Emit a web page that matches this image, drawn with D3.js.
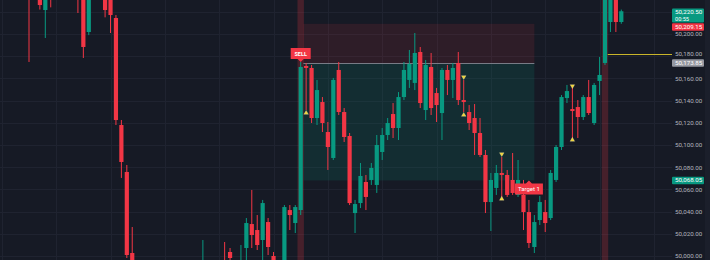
<!DOCTYPE html>
<html>
<head>
<meta charset="utf-8">
<script src="https://cdn.jsdelivr.net/npm/d3@7"></script>
<style>
  html, body { margin: 0; padding: 0; background: #161a25; overflow: hidden; }
  svg { display: block; font-family: Roboto, "Noto Sans", sans-serif; }
</style>
</head>
<body>
<svg id="chart" width="710" height="260"></svg>
<script>
// bar numbers, 0 = the SELL bar (only bars with something visible)
var bars = [-50, -48, -47, -46, -41, -40, -39, -36, -35, -34, -33, -32, -31,
    -18, -14, -13, -11, -10, -9, -8, -7, -6, -5, -3, -2, -1,
    0, 1, 2, 3, 4, 5, 6, 7, 8, 9, 10, 11, 12, 13, 14, 15, 16, 17, 18, 19,
    20, 21, 22, 23, 24, 25, 26, 27, 28, 29, 30, 31, 32, 33, 34, 35, 36, 37, 38, 39,
    40, 41, 42, 43, 44, 45, 46, 47, 48, 49, 50, 51, 52, 53, 54, 55, 56, 57, 58, 59];

var open = [50250, 50246, 50221.6, 50248, 50250, 50242, 50201.8, 50240, 50236, 50214.4, 50118.0, 50075.7, 50002.7,
    49985, 49995, 50003.6, 49988, 50007.2, 50028.8, 50023.4, 50014.4, 50030.6, 50000.0, 49990, 50041.4, 50029.7,
    50041.4, 50171.2, 50169.4, 50124.3, 50138.7, 50111.7, 50088.3, 50167.6, 50129.7, 50108.1,
    50038.7, 50047.7, 50066.7, 50068.5, 50064.0, 50093.7, 50109.0, 50127.9, 50115.3, 50143.2,
    50158.6, 50155.9, 50183.8, 50131.5, 50170.3, 50146.8, 50128.8, 50167.6, 50158.6, 50173.9,
    50140.5, 50129.7, 50124.3, 50110.8, 50091.0, 50048.6, 50061.3, 50074.8, 50073.0, 50068.5,
    50055.0, 50055.0, 50039.6, 50008.1, 50032.4, 50039.6, 50034.2, 50068.5, 50098.2, 50142.3,
    50132.4, 50134.2, 50125.2, 50143.2, 50119.8, 50157.7, 50173.9, 50210.8, 50236, 50210.8];

var high = [50262, 50252, 50252, 50256, 50258, 50248, 50245, 50246, 50242, 50217.1, 50122.5, 50082.0, 50026.1,
    50014.4, 50012.6, 50007.2, 50009.9, 50034.2, 50059.5, 50036.9, 50050.5, 50034.2, 50003.6, 50045.9, 50045.9, 50045.9,
    50174.8, 50173.9, 50172.1, 50158.6, 50143.2, 50120.7, 50160.4, 50174.8, 50133.3, 50110.8,
    50050.5, 50083.8, 50073.0, 50083.8, 50109.0, 50115.3, 50124.3, 50137.8, 50147.7, 50174.8,
    50185.6, 50200.9, 50188.3, 50176.6, 50182.9, 50151.4, 50169.4, 50172.1, 50173.9, 50183.8,
    50158.6, 50136.0, 50136.9, 50124.3, 50095.5, 50074.8, 50082.0, 50089.2, 50077.5, 50092.8,
    50086.5, 50068.5, 50050.5, 50036.9, 50054.1, 50050.5, 50077.5, 50100.0, 50145.0, 50154.1,
    50152.3, 50140.5, 50145.0, 50158.6, 50155.9, 50179.3, 50240, 50240, 50240, 50222.0];

var low = [50174.8, 50222.0, 50196.4, 50224.0, 50218.9, 50178.4, 50199.0, 50215.0, 50200.9, 50118.0, 50070.3, 49998.2, 49970,
    49975, 49980, 49985, 49980, 49995, 50007.2, 50005.4, 49995, 50000.9, 49988, 49985, 50023.4, 50020.7,
    50036.9, 50131.5, 50119.8, 50118.0, 50111.7, 50077.5, 50086.5, 50127.0, 50102.7, 50045.9,
    50020.7, 50043.2, 50041.4, 50064.0, 50056.8, 50086.5, 50104.5, 50106.3, 50104.5, 50140.5,
    50151.4, 50149.5, 50133.3, 50122.5, 50127.0, 50120.7, 50104.5, 50145.0, 50142.3, 50136.0,
    50129.7, 50113.5, 50091.0, 50089.2, 50038.7, 50022.5, 50055.0, 50053.2, 50053.2, 50055.0,
    50053.2, 50023.4, 50007.2, 50002.7, 50027.9, 50021.6, 50032.4, 50066.7, 50095.5, 50137.8,
    50105.4, 50106.3, 50122.5, 50127.0, 50118.0, 50145.0, 50172.1, 50201.8, 50201.8, 50209.2];

var close = [50244, 50226.1, 50240, 50236, 50238, 50188.3, 50238, 50221.6, 50217.1, 50122.5, 50084.7, 50000.9, 49978,
    49990, 49990, 49998.2, 49996, 50029.7, 50018.9, 50009.9, 50047.7, 50008.1, 49992, 50044.1, 50036.9, 50044.1,
    50170.3, 50169.4, 50124.3, 50149.5, 50119.8, 50098.2, 50158.6, 50129.7, 50107.2, 50047.7,
    50046.8, 50072.1, 50053.2, 50079.3, 50100.0, 50109.0, 50119.8, 50115.3, 50143.2, 50167.6,
    50173.0, 50182.9, 50137.8, 50172.1, 50133.3, 50136.0, 50167.6, 50158.6, 50169.4, 50140.5,
    50138.7, 50119.8, 50110.8, 50091.0, 50048.6, 50068.5, 50074.8, 50073.0, 50055.0, 50056.8,
    50068.5, 50039.6, 50011.7, 50030.6, 50048.6, 50029.7, 50074.8, 50098.2, 50143.2, 50148.6,
    50130.6, 50125.2, 50143.2, 50128.8, 50154.1, 50163.1, 50236, 50236, 50210.8, 50220.5];

// price scale ticks
var priceTicks = [50000, 50020, 50040, 50060, 50080, 50100, 50120, 50140, 50160, 50180, 50200, 50220];

// trade box
var entryPrice = 50173.85;
var stopPrice = 50209.15;
var targetPrice = 50068.05;
var lastPrice = 50220.50;
var countdown = "00:55";
var boxStartBar = 0.5, boxEndBar = 43;

// highlighted signal bars
var signalBars = [0, 56];

// yellow markers
var upMarkBars = [1, 30, 37, 50];
var upMarkPrices = [50128.8, 50127.0, 50051.4, 50104.5];
var downMarkBars = [30, 37, 50];
var downMarkPrices = [50161.3, 50091.9, 50153.2];

var levelPrice = 50182.0;  // yellow line from bar 56

// grid columns
var gridBars = [-55, -45, -35, -25, -15, -5, 5, 15, 25, 35, 45, 55, 65];

var W = 710, H = 260, paneW = 672;
var upColor = "#089981", downColor = "#f23645";

var x = d3.scaleLinear().domain([0, 59]).range([300.7, 621.3]);
var y = d3.scaleLinear().domain([50000, 50220]).range([256, 11.8]);
var step = x(1) - x(0);

var data = bars.map(function (b, i) {
    return {bar: b, o: open[i], h: high[i], l: low[i], c: close[i]};
});

var svg = d3.select("#chart");

svg.append("rect").attr("width", W).attr("height", H).attr("fill", "#161a25");

svg.append("defs").append("clipPath").attr("id", "pane")
    .append("rect").attr("x", 0).attr("y", 0).attr("width", paneW).attr("height", H);

var pane = svg.append("g").attr("clip-path", "url(#pane)");

// grid
pane.selectAll(".hgrid")
    .data(priceTicks)
    .enter().append("line")
    .attr("x1", 0).attr("x2", paneW)
    .attr("y1", function (d) { return Math.round(y(d)) + 0.5; })
    .attr("y2", function (d) { return Math.round(y(d)) + 0.5; })
    .attr("stroke", "#1f2330");

pane.selectAll(".vgrid")
    .data(gridBars)
    .enter().append("line")
    .attr("x1", function (d) { return Math.round(x(d)) + 0.5; })
    .attr("x2", function (d) { return Math.round(x(d)) + 0.5; })
    .attr("y1", 0).attr("y2", H)
    .attr("stroke", "#1f2330");

// signal columns
pane.selectAll(".signal")
    .data(signalBars)
    .enter().append("rect")
    .attr("x", function (d) { return x(d) - step / 2 - 0.5; })
    .attr("width", step + 1)
    .attr("y", 0).attr("height", H)
    .attr("fill", "rgba(242,54,69,0.22)");

// stop / target zones
pane.append("rect")
    .attr("x", x(boxStartBar)).attr("width", x(boxEndBar) - x(boxStartBar))
    .attr("y", y(stopPrice)).attr("height", y(entryPrice) - y(stopPrice))
    .attr("fill", "rgba(242,54,69,0.11)");
pane.append("rect")
    .attr("x", x(boxStartBar)).attr("width", x(boxEndBar) - x(boxStartBar))
    .attr("y", y(entryPrice)).attr("height", y(targetPrice) - y(entryPrice))
    .attr("fill", "rgba(8,153,129,0.15)");
pane.append("line")
    .attr("x1", x(boxStartBar)).attr("x2", x(boxEndBar))
    .attr("y1", Math.round(y(entryPrice)) + 0.5).attr("y2", Math.round(y(entryPrice)) + 0.5)
    .attr("stroke", "#787b86");

// yellow level
pane.append("line")
    .attr("x1", x(56) + step / 2).attr("x2", paneW)
    .attr("y1", Math.round(y(levelPrice)) + 0.5).attr("y2", Math.round(y(levelPrice)) + 0.5)
    .attr("stroke", "#c9b52a");

// candles
var candle = pane.selectAll(".candle")
    .data(data)
    .enter().append("g");

candle.append("line")
    .attr("x1", function (d) { return x(d.bar); })
    .attr("x2", function (d) { return x(d.bar); })
    .attr("y1", function (d) { return y(d.h); })
    .attr("y2", function (d) { return y(d.l); })
    .attr("stroke", function (d) { return d.c >= d.o ? upColor : downColor; })
    .attr("stroke-width", 1);

candle.append("rect")
    .attr("x", function (d) { return x(d.bar) - 2.1; })
    .attr("width", 4.2)
    .attr("y", function (d) { return y(Math.max(d.o, d.c)); })
    .attr("height", function (d) { return Math.max(1, Math.abs(y(d.o) - y(d.c))); })
    .attr("fill", function (d) { return d.c >= d.o ? upColor : downColor; });

// markers
var tri = d3.symbol().type(d3.symbolTriangle).size(9);
pane.selectAll(".up")
    .data(upMarkBars)
    .enter().append("path")
    .attr("d", tri)
    .attr("transform", function (d, i) { return "translate(" + x(d) + "," + y(upMarkPrices[i]) + ")"; })
    .attr("fill", "#f0d43a")
    .attr("stroke", "rgba(255,255,220,0.3)").attr("stroke-width", 0.8);
pane.selectAll(".down")
    .data(downMarkBars)
    .enter().append("path")
    .attr("d", tri)
    .attr("transform", function (d, i) { return "translate(" + x(d) + "," + y(downMarkPrices[i]) + ") rotate(180)"; })
    .attr("fill", "#f0d43a")
    .attr("stroke", "rgba(255,255,220,0.3)").attr("stroke-width", 0.8);

// SELL label
var sx = x(0), sy = y(high[bars.indexOf(0)]);
pane.append("path")
    .attr("d", "M" + (sx - 10) + "," + (sy - 14) + "h20v11h-7l-3,3l-3,-3h-7z")
    .attr("fill", "#f23645");
pane.append("text")
    .attr("x", sx).attr("y", sy - 6.3)
    .attr("text-anchor", "middle")
    .attr("font-size", 5.5).attr("font-weight", "bold")
    .attr("fill", "#fff")
    .text("SELL");

// Target 1 label
var tx = x(42), ty = y(targetPrice);
pane.append("path")
    .attr("d", "M" + (tx - 14) + "," + (ty + 3) + "h11l3,-3l3,3h11v11h-28z")
    .attr("fill", "#f23645");
pane.append("text")
    .attr("x", tx).attr("y", ty + 11)
    .attr("text-anchor", "middle")
    .attr("font-size", 6)
    .attr("fill", "#fff")
    .text("Target 1");

// price scale
var axisG = svg.append("g")
    .attr("transform", "translate(" + paneW + ",0)")
    .call(d3.axisRight(y)
        .tickValues(priceTicks.slice(0, 11))
        .tickSize(0)
        .tickPadding(3)
        .tickFormat(d3.format(",.2f")));
axisG.select(".domain").remove();
axisG.selectAll("text")
    .attr("fill", "#b2b5be")
    .attr("font-size", 6.2)
    .attr("font-family", "Roboto, sans-serif");
// the 50,180 label sits just above the entry tag
axisG.selectAll(".tick text")
    .attr("dy", function (d) { return d === 50180 ? "-0.05em" : "0.32em"; });

// price tags
var fmt = d3.format(",.2f");
function tag(cy, h, bg, fg, lines) {
    svg.append("rect")
        .attr("x", paneW).attr("y", cy - h / 2)
        .attr("width", 32).attr("height", h)
        .attr("rx", 1)
        .attr("fill", bg);
    lines.forEach(function (t, i) {
        svg.append("text")
            .attr("x", paneW + 3)
            .attr("y", cy - h / 2 + 5.5 + i * 6.9)
            .attr("font-size", i === 0 ? 6.2 : 5.6)
            .attr("fill", fg)
            .text(t);
    });
}
tag(y(lastPrice) + 4.2, 14, upColor, "#fff", [fmt(lastPrice), countdown]);
tag(y(stopPrice) + 3.1, 7.6, "#f23645", "#fff", [fmt(stopPrice)]);
tag(y(entryPrice), 7.6, "#9598a1", "#fff", [fmt(entryPrice)]);
tag(y(targetPrice), 7.6, upColor, "#fff", [fmt(targetPrice)]);

// right border
svg.append("rect").attr("x", 705).attr("y", 0).attr("width", 5).attr("height", H).attr("fill", "#1b1f2b");
</script>
</body>
</html>
